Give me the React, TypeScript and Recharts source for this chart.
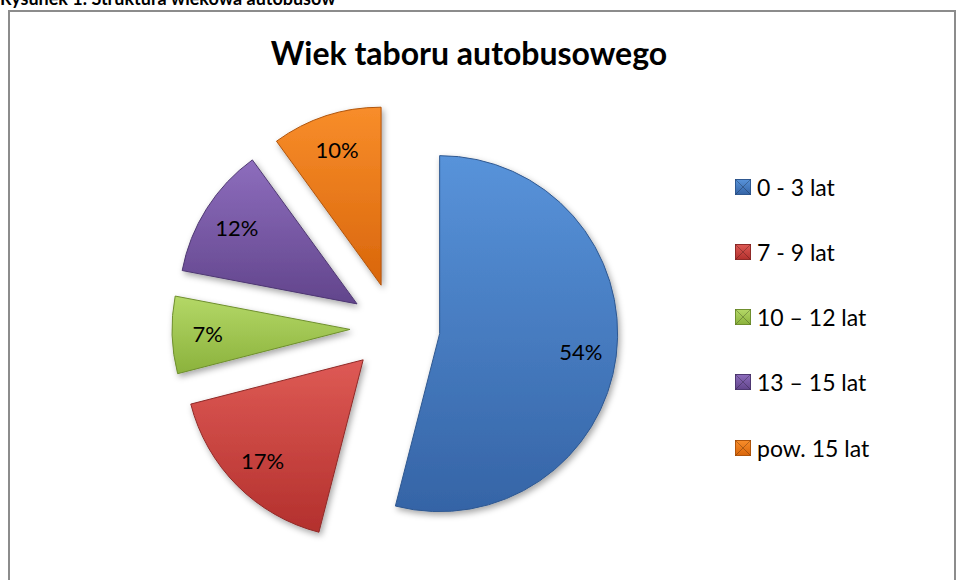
import { PieChart, Pie, Cell, Legend } from 'recharts';

const categories = ['0 - 3 lat', '7 - 9 lat', '10 – 12 lat', '13 – 15 lat', 'pow. 15 lat'];
const shares = [54, 17, 7, 12, 10];
const topColors = ['#5893da', '#de5a55', '#b4d867', '#8d6dbd', '#f88d2a'];
const bottomColors = ['#3564a6', '#b3302d', '#8bb23c', '#62458c', '#d9660b'];
const edgeColors = ['#2f5890', '#8f2a28', '#6f8f2e', '#4e3872', '#b0550c'];

const data = categories.map((name, i) => ({ name, value: shares[i] }));
const total = shares.reduce((a, b) => a + b, 0);

const CX = 395;
const CY = 328;
const R = 178;
const EXPLODE = 45;
const RAD = Math.PI / 180;
const FONT = 'Lato, "Open Sans", sans-serif';

// mid angle of each slice, pie going clockwise from 12 o'clock
const midAngles = shares.map((v, i) => {
  const before = shares.slice(0, i).reduce((a, b) => a + b, 0);
  return 90 - (360 * (before + v / 2)) / total;
});

function sliceLabel(only: number) {
  return (p: any) => {
    if (p.index !== only) return null;
    const r = p.outerRadius * 0.8;
    const x = p.cx + r * Math.cos(-p.midAngle * RAD);
    const y = p.cy + r * Math.sin(-p.midAngle * RAD);
    return (
      <text x={x} y={y} fill="#000" fontSize={22} fontFamily={FONT} textAnchor="middle" dominantBaseline="central">
        {`${Math.round(p.percent * 100)}%`}
      </text>
    );
  };
}

function LegendBox() {
  return (
    <div style={{ fontFamily: FONT }}>
      {categories.map((c, i) => (
        <div key={c} style={{ height: 65.25, display: 'flex', alignItems: 'center' }}>
          <svg width={16} height={16} style={{ marginRight: 6 }}>
            <rect x={0.5} y={0.5} width={15} height={15} fill={`url(#grad${i})`} stroke={edgeColors[i]} strokeWidth={1} />
            <path d="M0.5 0.5 L8 8 L15.5 0.5 M0.5 15.5 L8 8 L15.5 15.5" stroke="rgba(0,0,0,0.25)" strokeWidth={1} fill="none" />
          </svg>
          <span style={{ fontSize: 23, color: '#000', whiteSpace: 'nowrap' }}>{c}</span>
        </div>
      ))}
    </div>
  );
}

export default function App() {
  return (
    <div style={{ position: 'absolute', left: 0, top: 0, width: 957, height: 580, overflow: 'hidden', background: '#fff' }}>
      <svg width={957} height={580} style={{ position: 'absolute', left: 0, top: 0 }}>
        <defs>
          {topColors.map((c, i) => (
            <linearGradient key={i} id={`grad${i}`} x1="0" y1="0" x2="0" y2="1">
              <stop offset="0%" stopColor={c} />
              <stop offset="100%" stopColor={bottomColors[i]} />
            </linearGradient>
          ))}
          <filter id="shadow" x="-20%" y="-20%" width="140%" height="140%">
            <feDropShadow dx="2" dy="3" stdDeviation="3" floodColor="#000" floodOpacity="0.35" />
          </filter>
        </defs>
        <rect x={9} y={11} width={946} height={600} fill="none" stroke="#8c8c8c" strokeWidth={2} />
      </svg>
      <div
        style={{
          position: 'absolute',
          left: 0,
          top: -13,
          fontFamily: FONT,
          fontWeight: 700,
          fontSize: 18,
          lineHeight: '22px',
          whiteSpace: 'nowrap',
        }}
      >
        Rysunek 1. Struktura wiekowa autobusów
      </div>
      <div
        style={{
          position: 'absolute',
          left: 0,
          width: 938,
          top: 33,
          textAlign: 'center',
          fontFamily: FONT,
          fontWeight: 700,
          fontSize: 32,
          lineHeight: '40px',
          whiteSpace: 'nowrap',
        }}
      >
        Wiek taboru autobusowego
      </div>
      <div style={{ position: 'absolute', left: 0, top: 0 }}>
        <PieChart width={957} height={580} margin={{ top: 0, right: 0, bottom: 0, left: 0 }}>
          {categories.map((c, k) => (
            <Pie
              key={c}
              data={data}
              dataKey="value"
              nameKey="name"
              cx={CX + EXPLODE * Math.cos(midAngles[k] * RAD)}
              cy={CY - EXPLODE * Math.sin(midAngles[k] * RAD)}
              outerRadius={R}
              startAngle={90}
              endAngle={-270}
              label={sliceLabel(k)}
              labelLine={false}
              isAnimationActive={false}
            >
              {data.map((d, i) => (
                <Cell
                  key={d.name}
                  fill={i === k ? `url(#grad${i})` : 'none'}
                  stroke={i === k ? edgeColors[i] : 'none'}
                  strokeWidth={1}
                  style={i === k ? { filter: 'url(#shadow)' } : undefined}
                />
              ))}
            </Pie>
          ))}
          <Legend
            layout="vertical"
            content={() => <LegendBox />}
            wrapperStyle={{ position: 'absolute', left: 735, top: 154, width: 210 }}
          />
        </PieChart>
      </div>
    </div>
  );
}
